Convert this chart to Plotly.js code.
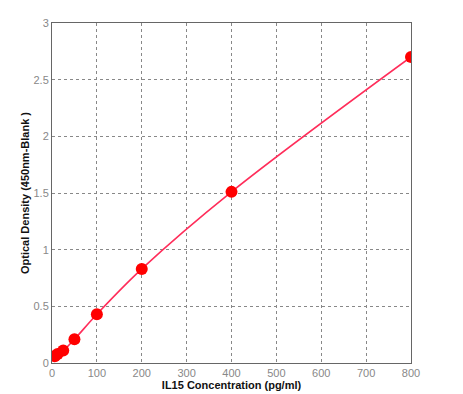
<!DOCTYPE html>
<html><head><meta charset="utf-8">
<script src="https://cdn.plot.ly/plotly-3.0.1.min.js"></script>
<style>html,body{margin:0;padding:0;background:#fff}</style>
</head><body>
<div id="chart" style="width:463px;height:394px"></div>
<script>
var concentration = [6.25, 12.5, 25, 50, 100, 200, 400, 800];
var opticalDensity = [0.06, 0.08, 0.11, 0.21, 0.43, 0.83, 1.51, 2.70];
var xTicks = [0, 100, 200, 300, 400, 500, 600, 700, 800];
var yTicks = [0, 0.5, 1, 1.5, 2, 2.5, 3];

var traces = [
  {x: concentration, y: opticalDensity, mode: 'lines', line: {color: '#ff2d5a', width: 1.6, shape: 'spline'}, hoverinfo: 'none'},
  {x: concentration, y: opticalDensity, mode: 'markers', marker: {color: '#ff0000', size: 12}, hoverinfo: 'none'}
];
var axisCommon = {
  showline: true, linecolor: '#666', linewidth: 1, mirror: true,
  showgrid: true, gridcolor: '#888', griddash: 'dot', gridwidth: 1,
  zeroline: false, ticks: '', tickfont: {family: 'Liberation Sans, Arial', size: 11, color: '#888'}
};
var layout = {
  width: 463, height: 394, showlegend: false,
  margin: {l: 52, r: 52, t: 23, b: 31},
  paper_bgcolor: '#fff', plot_bgcolor: '#fff',
  xaxis: Object.assign({}, axisCommon, {range: [0, 800], tickvals: xTicks, ticktext: xTicks.map(String),
    title: {text: 'IL15 Concentration (pg/ml)', font: {family: 'Liberation Sans, Arial', size: 11, color: '#111', weight: 'bold'}, standoff: 2}}),
  yaxis: Object.assign({}, axisCommon, {range: [0, 3], tickvals: yTicks, ticktext: yTicks.map(String),
    title: {text: 'Optical Density (450nm-Blank )', font: {family: 'Liberation Sans, Arial', size: 11, color: '#111', weight: 'bold'}, standoff: 1}})
};
Plotly.newPlot('chart', traces, layout, {displayModeBar: false, staticPlot: true});
</script>
</body></html>
